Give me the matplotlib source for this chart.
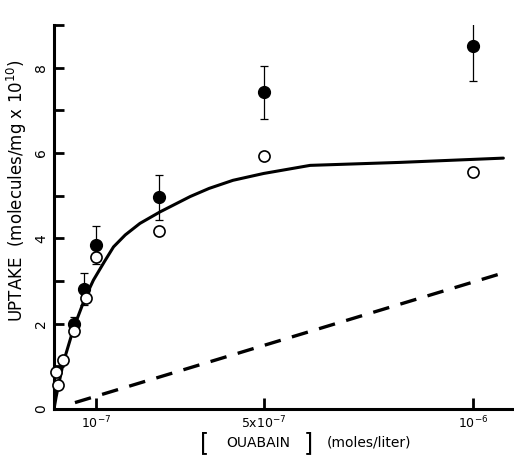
import matplotlib.pyplot as plt

# x in units of 1e-7 mol/l, uptake in molecules/mg x 10^10
FILLED_X = [0.48, 0.72, 1.0, 2.5, 5.0, 10.0]
FILLED_Y = [1.99, 2.81, 3.84, 4.96, 7.42, 8.50]
FILLED_ERR = [0.16, 0.37, 0.45, 0.52, 0.63, 0.82]

OPEN_X = [0.04, 0.10, 0.22, 0.48, 0.76, 1.0, 2.5, 5.0, 10.0]
OPEN_Y = [0.87, 0.56, 1.15, 1.83, 2.60, 3.56, 4.17, 5.92, 5.55]

CURVE_X = [0.0, 0.05, 0.10, 0.22, 0.47, 0.74, 0.94, 1.20, 1.42, 1.70,
           2.05, 2.53, 3.25, 3.70, 4.27, 5.00, 6.11, 8.26, 10.72]
CURVE_Y = [0.0, 0.28, 0.52, 1.08, 1.90, 2.60, 3.02, 3.45, 3.80, 4.08,
           4.35, 4.62, 4.98, 5.17, 5.36, 5.52, 5.71, 5.78, 5.88]

DASH_X = [0.5, 10.72]
DASH_Y = [0.15, 3.19]

X_TICKS = [1, 5, 10]
X_LABELS = [r"10$^{-7}$", r"5x10$^{-7}$", r"10$^{-6}$"]
Y_TICKS = list(range(0, 10))
Y_LABELS = ["0", "", "2", "", "4", "", "6", "", "8", ""]

plt.rcParams["font.family"] = ["DejaVu Sans"]

fig = plt.figure(figsize=(5.14, 4.55), dpi=100)
ax = fig.add_axes([54 / 514, 46 / 455, 459 / 514, 384 / 455])

ax.plot(CURVE_X, CURVE_Y, color="black", lw=2.2, solid_capstyle="round", zorder=2)
ax.plot(DASH_X, DASH_Y, color="black", lw=2.4, dashes=(5, 3.5), zorder=2)

ax.errorbar(FILLED_X, FILLED_Y, yerr=FILLED_ERR, fmt="o", color="black",
            ms=8.5, elinewidth=0.9, capsize=3, capthick=0.9, zorder=3)
ax.plot(OPEN_X, OPEN_Y, "o", ms=8, mfc="white", mec="black", mew=1.2,
        zorder=4, clip_on=False)

ax.set_xlim(0, 10.95)
ax.set_ylim(0, 9)

for side in ["top", "right"]:
    ax.spines[side].set_visible(False)
for side in ["left", "bottom"]:
    ax.spines[side].set_linewidth(2.2)

ax.set_xticks(X_TICKS)
ax.set_xticklabels(X_LABELS, fontsize=9)
ax.set_yticks(Y_TICKS)
ax.set_yticklabels(Y_LABELS, fontsize=10, rotation=90, va="center")
ax.tick_params(axis="x", direction="in", length=8, width=2, pad=4)
ax.tick_params(axis="y", direction="in", length=7, width=2, pad=4)

ax.set_ylabel(r"UPTAKE  (molecules/mg x 10$^{10}$)", fontsize=12)
ax.yaxis.set_label_coords(-(54 - 29) / 459, 0.57)

# x label with tall brackets
fig.text(205 / 514, 1 - 443 / 455, "[", fontsize=17, ha="center", va="center")
fig.text(258 / 514, 1 - 443 / 455, "OUABAIN", fontsize=10, ha="center", va="center")
fig.text(308 / 514, 1 - 443 / 455, "]", fontsize=17, ha="center", va="center")
fig.text(369 / 514, 1 - 443 / 455, "(moles/liter)", fontsize=10, ha="center", va="center")

fig.savefig("out.png", dpi=100)
